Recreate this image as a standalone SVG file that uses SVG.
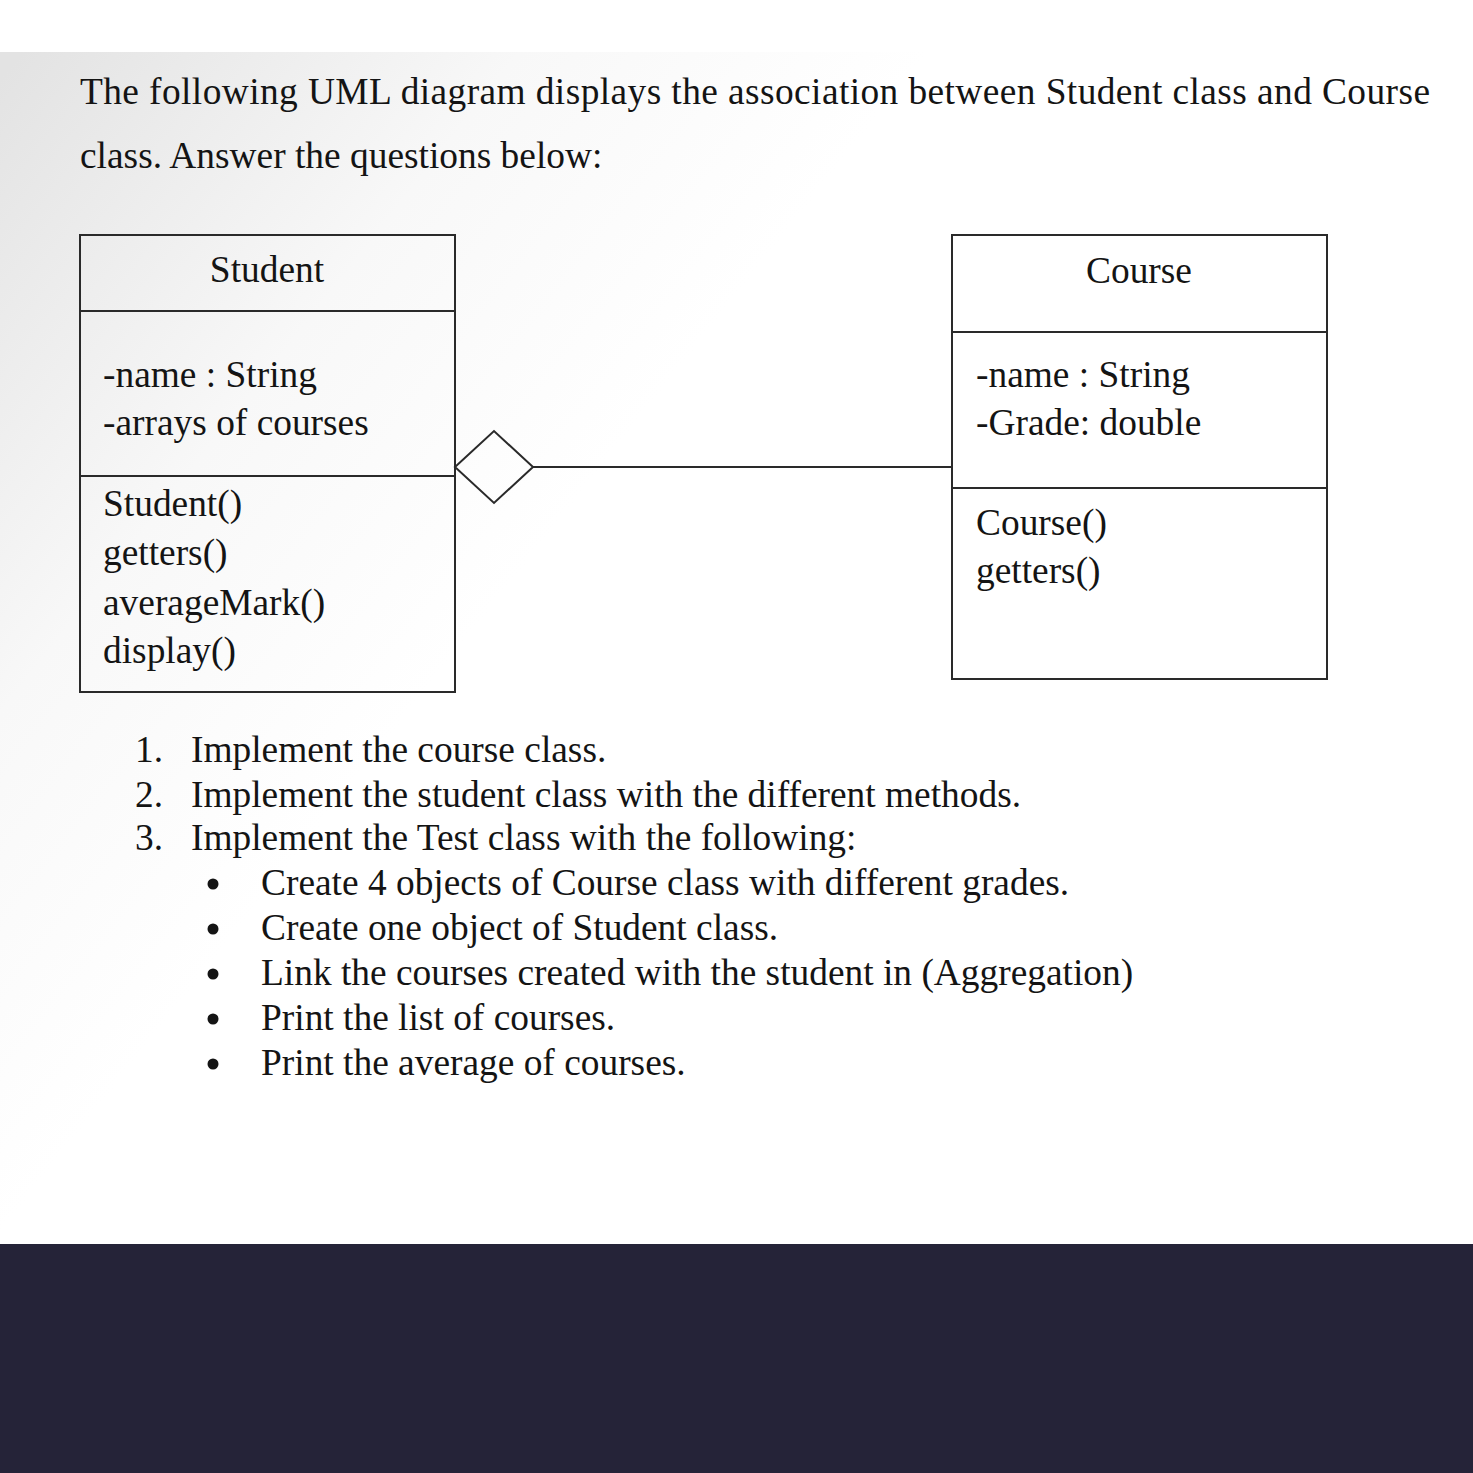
<svg xmlns="http://www.w3.org/2000/svg" width="1473" height="1473" viewBox="0 0 1473 1473">
<defs>
<linearGradient id="bg" gradientUnits="userSpaceOnUse" x1="0" y1="80" x2="560" y2="520">
<stop offset="0" stop-color="#e3e3e3"/>
<stop offset="0.55" stop-color="#f8f8f8"/>
<stop offset="1" stop-color="#ffffff"/>
</linearGradient>
<style>
text{font-family:"Liberation Serif","Times New Roman",serif;font-size:37.4px;fill:#141414}
.box{fill:none;stroke:#2a2a2a;stroke-width:2}
.ln{stroke:#2a2a2a;stroke-width:2;fill:none}
.mid{text-anchor:middle}
.dot{fill:#141414}
</style>
</defs>
<rect x="0" y="0" width="1473" height="1473" fill="#ffffff"/>
<rect x="0" y="52" width="1473" height="1192" fill="url(#bg)"/>
<rect x="0" y="1244" width="1473" height="229" fill="#252338"/>

<text x="80" y="104" textLength="1350" lengthAdjust="spacing">The following UML diagram displays the association between Student class and Course</text>
<text x="80" y="168">class. Answer the questions below:</text>

<g id="student">
<rect class="box" x="80" y="235" width="375" height="457"/>
<line class="ln" x1="80" y1="311" x2="455" y2="311"/>
<line class="ln" x1="80" y1="476" x2="455" y2="476"/>
<text class="mid" x="267" y="282">Student</text>
<text x="103" y="387">-name : String</text>
<text x="103" y="435">-arrays of courses</text>
<text x="103" y="516">Student()</text>
<text x="103" y="565">getters()</text>
<text x="103" y="615">averageMark()</text>
<text x="103" y="663">display()</text>
</g>

<g id="course">
<rect class="box" x="952" y="235" width="375" height="444"/>
<line class="ln" x1="952" y1="332" x2="1327" y2="332"/>
<line class="ln" x1="952" y1="488" x2="1327" y2="488"/>
<text class="mid" x="1139" y="283">Course</text>
<text x="976" y="387">-name : String</text>
<text x="976" y="435">-Grade: double</text>
<text x="976" y="535">Course()</text>
<text x="976" y="583">getters()</text>
</g>

<g id="connectors">
<polygon class="ln" points="455,467 494,431 533,467 494,503" fill="#ffffff"/>
<line class="ln" x1="533" y1="467" x2="952" y2="467"/>
</g>

<g id="questions">
<text x="135" y="762">1.</text>
<text x="191" y="762">Implement the course class.</text>
<text x="135" y="807">2.</text>
<text x="191" y="807">Implement the student class with the different methods.</text>
<text x="135" y="850">3.</text>
<text x="191" y="850">Implement the Test class with the following:</text>
<circle class="dot" cx="213" cy="884" r="5.5"/>
<text x="261" y="895">Create 4 objects of Course class with different grades.</text>
<circle class="dot" cx="213" cy="929" r="5.5"/>
<text x="261" y="940">Create one object of Student class.</text>
<circle class="dot" cx="213" cy="974" r="5.5"/>
<text x="261" y="985">Link the courses created with the student in (Aggregation)</text>
<circle class="dot" cx="213" cy="1019" r="5.5"/>
<text x="261" y="1030">Print the list of courses.</text>
<circle class="dot" cx="213" cy="1064" r="5.5"/>
<text x="261" y="1075">Print the average of courses.</text>
</g>
</svg>
